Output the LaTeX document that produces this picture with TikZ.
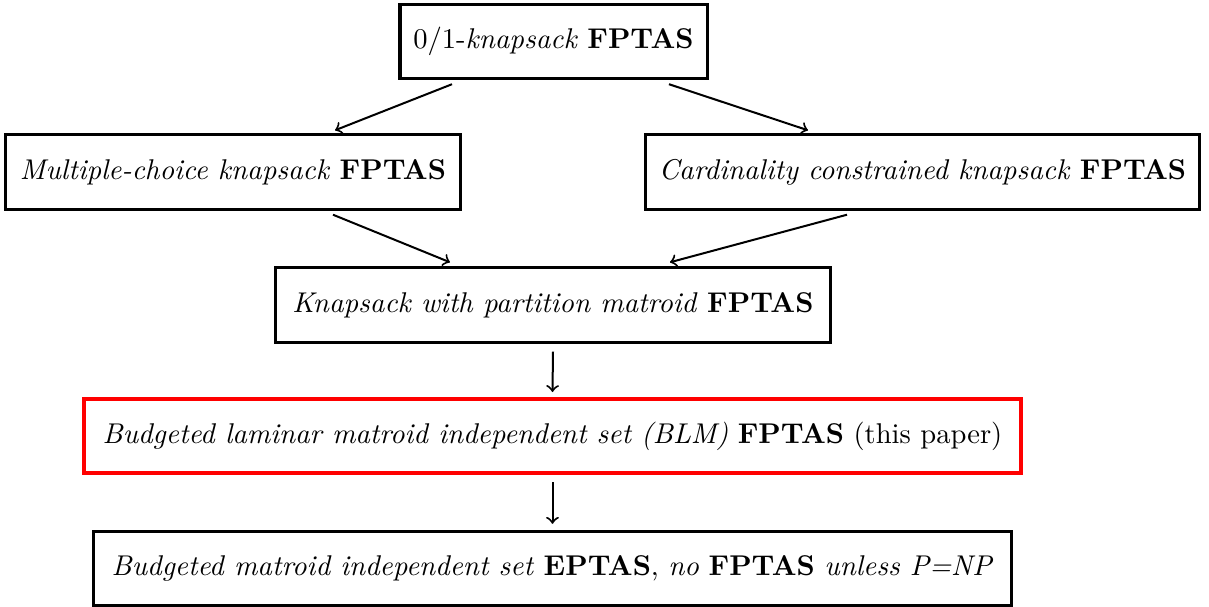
\documentclass[tikz,border=0pt]{standalone}
\usetikzlibrary{positioning}
\tikzset{
  box/.style={draw, line width=1.1pt, minimum height=26pt, inner sep=3pt},
  arr/.style={->, line width=0.7pt}
}
\begin{document}
\begin{tikzpicture}[x=0.35pt,y=-0.35pt]
    \useasboundingbox (0,0) rectangle (1209,607);
    \node[box, minimum width=107.5pt] (knap) at (553.5,41.5) {$0/1$-\emph{knapsack} \textbf{FPTAS}};
    \node[box, minimum width=159pt] (mck) at (233,172) {\emph{Multiple-choice knapsack} \textbf{FPTAS}};
    \node[box, minimum width=194pt] (card) at (922.5,172) {\emph{Cardinality constrained knapsack} \textbf{FPTAS}};
    \node[box, minimum width=194pt] (part) at (553,305) {\emph{Knapsack with partition matroid} \textbf{FPTAS}};
    \node[box, draw=red, line width=1.3pt, minimum width=328pt] (blm) at (552.5,436) {\emph{Budgeted laminar matroid independent set (BLM)} \textbf{FPTAS} (this paper)};
    \node[box, minimum width=321.6pt] (bm) at (552.5,568.5) {\emph{Budgeted matroid independent set} \textbf{EPTAS}, \emph{no} \textbf{FPTAS} \emph{unless P=NP}};
    \draw[arr] ([shift={(-101.5,4)}]knap.south) -- ([shift={(102,-3)}]mck.north);
    \draw[arr] ([shift={(115.5,4)}]knap.south) -- ([shift={(-114.5,-3)}]card.north);
    \draw[arr] ([shift={(100,4)}]mck.south) -- ([shift={(-103,-4)}]part.north);
    \draw[arr] ([shift={(-75.5,4)}]card.south) -- ([shift={(117,-4)}]part.north);
    \draw[arr] ([yshift=-8*0.35pt]part.south) -- ([yshift=5*0.35pt]blm.north);
    \draw[arr] ([yshift=-7*0.35pt]blm.south) -- ([yshift=6*0.35pt]bm.north);
\end{tikzpicture}
\end{document}
